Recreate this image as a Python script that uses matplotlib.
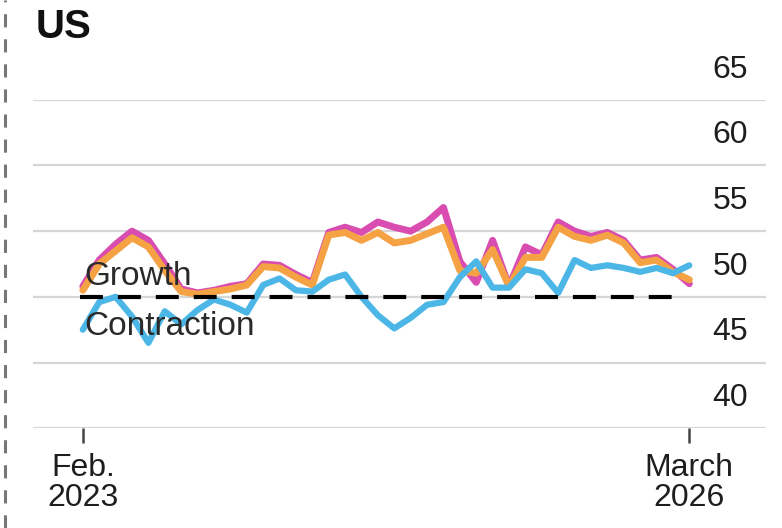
import matplotlib
matplotlib.use('Agg')
import matplotlib.pyplot as plt
from matplotlib.lines import Line2D

plt.rcParams['font.family'] = ['Liberation Sans', 'DejaVu Sans']

# Monthly readings, Feb. 2023 to March 2026
months = list(range(38))
magenta = [50.8, 52.8, 54.0, 55.0, 54.3, 52.5, 50.6, 50.3, 50.5, 50.8,
           51.0, 52.5, 52.4, 51.7, 51.1, 54.9, 55.3, 54.9, 55.7, 55.3,
           55.0, 55.7, 56.8, 52.7, 51.1, 54.3, 50.8, 53.8, 53.2, 55.7,
           55.0, 54.6, 54.9, 54.3, 52.8, 53.0, 52.1, 51.0]
orange = [50.5, 52.5, 53.5, 54.5, 53.8, 52.0, 50.4, 50.2, 50.4, 50.6,
          50.9, 52.3, 52.2, 51.5, 50.9, 54.7, 54.9, 54.3, 54.9, 54.1,
          54.3, 54.8, 55.3, 52.0, 51.8, 53.6, 50.8, 53.0, 53.0, 55.3,
          54.6, 54.3, 54.7, 54.1, 52.6, 52.8, 51.9, 51.3]
cyan = [47.5, 49.6, 50.0, 48.5, 46.5, 48.9, 47.9, 49.0, 49.8, 49.4,
        48.8, 50.9, 51.4, 50.5, 50.4, 51.3, 51.7, 50.0, 48.6, 47.6,
        48.4, 49.4, 49.6, 51.5, 52.7, 50.7, 50.7, 52.1, 51.8, 50.3,
        52.8, 52.2, 52.4, 52.2, 51.9, 52.2, 51.8, 52.4]
y_ticks = [40, 45, 50, 55, 60, 65]
x_tick_pos = [0, 37]
x_tick_labels = ['Feb.\n2023', 'March\n2026']

fig = plt.figure(figsize=(7.82, 5.28), dpi=100)
ax = fig.add_axes([0.042, 0.189, 0.938, 0.622])

ax.plot(months, magenta, color='#d94cb0', lw=5, solid_capstyle='round', zorder=3)
ax.plot(months, orange, color='#f5a245', lw=5, solid_capstyle='round', zorder=4)
ax.plot(months, cyan, color='#4cb6e6', lw=4.5, solid_capstyle='round', zorder=5)

# growth/contraction threshold
ax.plot([-0.2, 36], [50, 50], color='black', lw=3, linestyle=(0, (5.5, 3.6)), zorder=6)

for v in y_ticks:
    ax.axhline(v, color='#d6d6d6', lw=1.6, zorder=1)
    ax.annotate(str(v), xy=(0.975, v), xycoords=ax.get_yaxis_transform(),
                xytext=(0, 11), textcoords='offset points',
                ha='right', va='bottom', fontsize=23, color='#1e1e1e')

ax.text(0.1, 50.9, 'Growth', fontsize=24, color='#2a2a2a', va='baseline', zorder=7)
ax.text(0.1, 47.1, 'Contraction', fontsize=24, color='#2a2a2a', va='baseline', zorder=7)

ax.set_xlim(-3.05, 41.7)
ax.set_ylim(40, 65)
ax.set_yticks([])
ax.set_xticks(x_tick_pos)
ax.set_xticklabels(x_tick_labels, fontsize=23, color='#1e1e1e', linespacing=1.0)
ax.tick_params(axis='x', length=11, width=1.8, color='#444444', pad=7)
for s in ax.spines.values():
    s.set_visible(False)

fig.text(0.045, 0.985, 'US', fontsize=29, fontweight='bold', color='#111111', va='top')
fig.add_artist(Line2D([0.0064, 0.0064], [0, 1], transform=fig.transFigure,
                      color='#777777', lw=2.2, linestyle=(0, (4.3, 3.9))))

fig.savefig('out.png', dpi=100)
